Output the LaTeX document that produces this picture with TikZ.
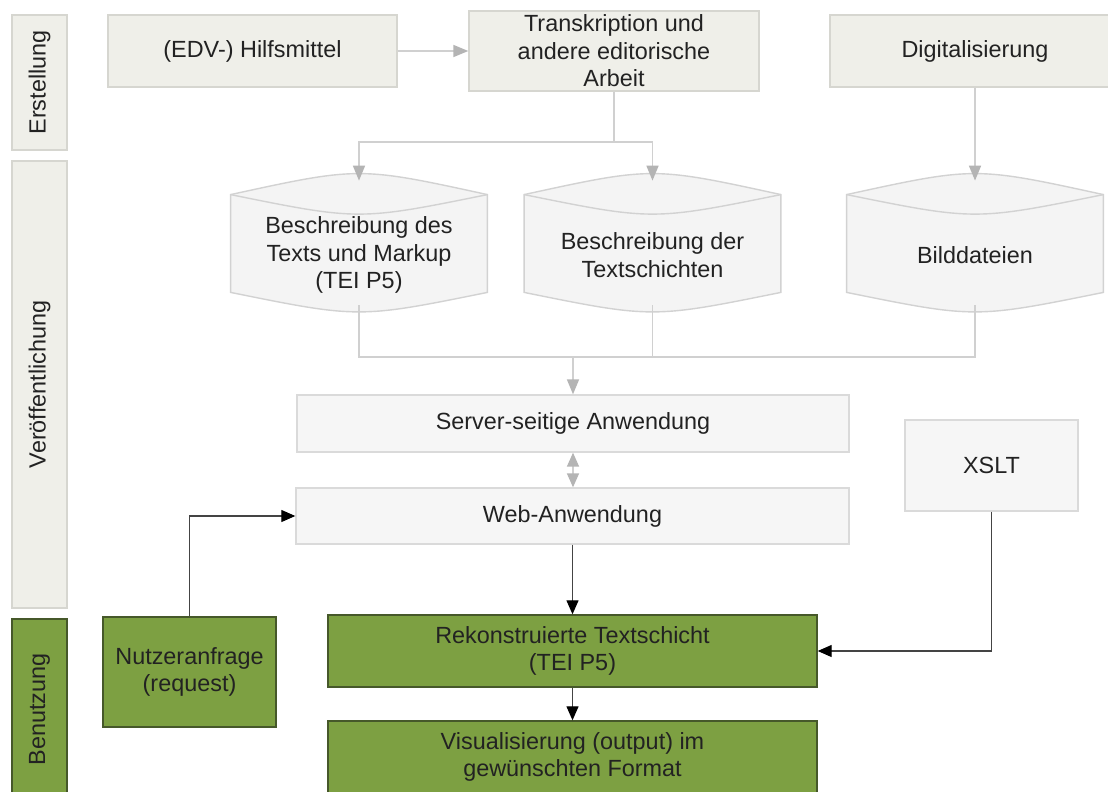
\documentclass[tikz,border=0pt]{standalone}
\usepackage{fontspec}
\setmainfont{Liberation Sans}
\usetikzlibrary{arrows.meta,calc,backgrounds}
\definecolor{beigefill}{HTML}{EFEFE9}
\definecolor{beigeline}{HTML}{D6D6D0}
\definecolor{greyfill}{HTML}{F6F6F6}
\definecolor{greyline}{HTML}{DADADA}
\definecolor{cylfill}{HTML}{F4F4F4}
\definecolor{cylline}{HTML}{D2D2D2}
\definecolor{greenfill}{HTML}{7DA042}
\definecolor{greenline}{HTML}{46582A}
\definecolor{txt}{HTML}{222222}
\definecolor{lgray}{HTML}{D0D0D0}
\definecolor{tgray}{HTML}{B4B4B4}
\definecolor{dline}{HTML}{444444}
\newcommand{\fs}{\fontsize{11.7}{13.8}\selectfont}
\newcommand{\cylpath}[1]{%
  \path[fill=cylfill,draw=cylline,line width=0.7pt]
    ($(#1.north west)+(0,14)$) .. controls ($(#1.north)+(0,-14)$) .. ($(#1.north east)+(0,14)$)
    -- ($(#1.south east)+(0,-13)$) .. controls ($(#1.south)+(0,13)$) .. ($(#1.south west)+(0,-13)$)
    -- cycle;
  \path[draw=cylline,line width=0.7pt]
    ($(#1.north west)+(0,14)$) .. controls ($(#1.north)+(0,40)$) .. ($(#1.north east)+(0,14)$);
}
\tikzset{
  base/.style={draw, font=\fs, align=center, inner sep=2pt, line width=0.7pt, text=txt},
  beigebox/.style={base, fill=beigefill, draw=beigeline},
  greybox/.style={base, fill=greyfill, draw=greyline},
  greenbox/.style={base, fill=greenfill, draw=greenline},
  lanebeige/.style={beigebox, rotate=90},
  lanegreen/.style={greenbox, rotate=90},
  cylbox/.style={font=\fs, align=center, inner sep=0pt, text=txt, minimum width=128pt, minimum height=62pt},
  gline/.style={draw=lgray, line width=0.8pt},
  garrow/.style={gline, -{Triangle[length=7.5pt,width=6pt,color=tgray]}},
  gdarrow/.style={gline, {Triangle[length=7pt,width=6pt,color=tgray]}-{Triangle[length=7pt,width=6pt,color=tgray]}},
  barrow/.style={draw=dline, line width=0.6pt, -{Triangle[length=7pt,width=6pt,color=black]}},
}
\begin{document}
\begin{tikzpicture}[x=0.5pt,y=-0.5pt]
\useasboundingbox (0,0) rectangle (1108,792);
\clip (0,0) rectangle (1108,792);
\fill[white] (0,0) rectangle (1108,792);

% lanes
\node[lanebeige, minimum width=67.5pt, minimum height=27.5pt] (lane1) at (39.5,82.5) {Erstellung};
\node[lanebeige, minimum width=223.5pt, minimum height=27.5pt] (lane2) at (39.5,384.5) {Veröffentlichung};
\node[lanegreen, minimum width=90.5pt, minimum height=27.5pt] (lane3) at (39.5,709.5) {Benutzung};

% top row
\node[beigebox, minimum width=144.5pt, minimum height=36pt] (hilfs) at (252.5,51) {(EDV-) Hilfsmittel};
\node[beigebox, minimum width=145pt, minimum height=36pt] (trans) at (614,51) {Transkription und\\andere editorische\\Arbeit};
\node[beigebox, minimum width=145pt, minimum height=36pt] (digit) at (975,51) {Digitalisierung};

% cylinders
\node[cylbox] (c1) at (359,243) {};
\node[cylbox] (c2) at (652.5,243) {};
\node[cylbox] (c3) at (975,243) {};
\cylpath{c1}
\cylpath{c2}
\cylpath{c3}
\node[cylbox, minimum width=0pt, minimum height=0pt] (c1t) at ($(c1)+(0,12)$) {Beschreibung des\\Texts und Markup\\(TEI P5)};
\node[cylbox, minimum width=0pt, minimum height=0pt] (c2t) at ($(c2)+(0,12)$) {Beschreibung der\\Textschichten};
\node[cylbox, minimum width=0pt, minimum height=0pt] (c3t) at ($(c3)+(0,12)$) {Bilddateien};

% middle
\node[greybox, minimum width=276pt, minimum height=28.5pt] (server) at (573,423.5) {Server-seitige Anwendung};
\node[greybox, minimum width=276.5pt, minimum height=28pt] (web) at (572.5,516) {Web-Anwendung};
\node[greybox, minimum width=86.5pt, minimum height=45.5pt] (xslt) at (991.5,465.5) {XSLT};

% bottom
\node[greenbox, minimum width=86.5pt, minimum height=55pt] (nutzer) at (189.5,672) {Nutzeranfrage\\(request)};
\node[greenbox, minimum width=244.5pt, minimum height=36pt] (rekon) at (572.5,651) {Rekonstruierte Textschicht\\(TEI P5)};
\node[greenbox, minimum width=244.5pt, minimum height=36pt] (visual) at (572.5,757) {Visualisierung (output) im\\gewünschten Format};

% connectors (grey)
\draw[garrow] (hilfs.east) -- (trans.west);
\coordinate (j1) at ($(trans.south)+(0,50)$);
\draw[gline] (trans.south) -- (j1);
\draw[garrow] (j1) -| (c1.north);
\draw[garrow] (j1) -| (c2.north);
\draw[garrow] (digit.south) -- (c3.north);
\coordinate (j2) at (server.north |- 0,357);
\draw[gline] (c1.south) |- (j2);
\draw[gline] (c2.south) |- (j2);
\draw[gline] (c3.south) |- (j2);
\draw[garrow] (j2) -- (server.north);
\draw[gdarrow] (server.south) -- (server.south |- web.north);

% connectors (black)
\draw[barrow] (web.south -| rekon.north) -- (rekon.north);
\draw[barrow] (rekon.south) -- (visual.north);
\draw[barrow] (xslt.south) |- (rekon.east);
\draw[barrow] (nutzer.north) |- (web.west);
\end{tikzpicture}
\end{document}
